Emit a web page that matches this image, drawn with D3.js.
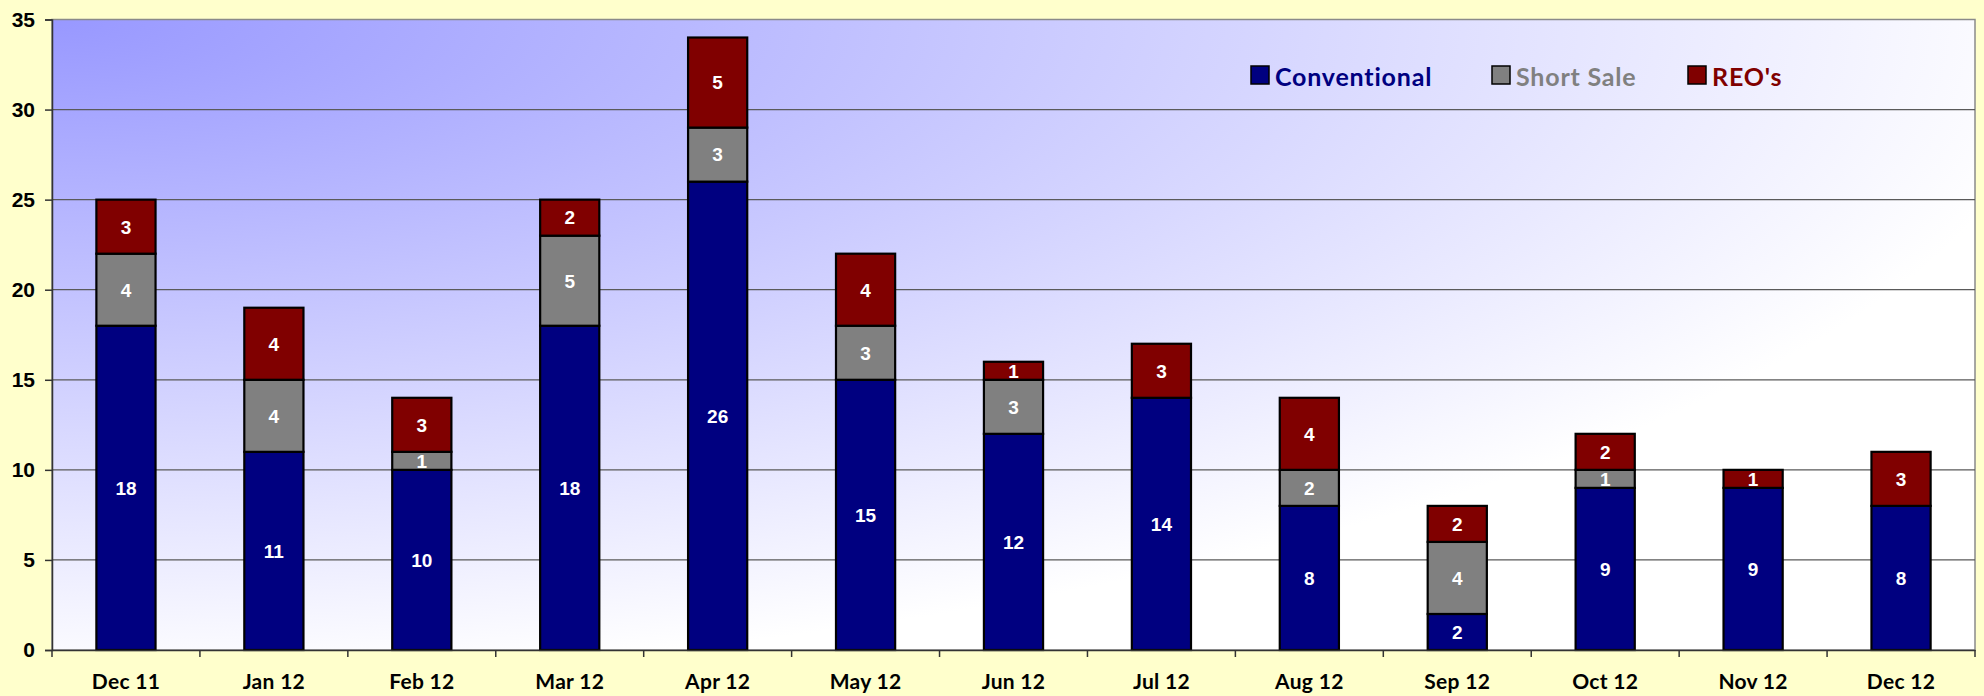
<!DOCTYPE html>
<html>
<head>
<meta charset="utf-8">
<script src="https://cdn.jsdelivr.net/npm/d3@7"></script>
<style>
  html, body { margin: 0; padding: 0; background: #FFFFCC; }
  svg { display: block; }
</style>
</head>
<body>
<svg id="chart" width="1984" height="696"></svg>
<script>
// ---- Data ----
const categories = ["Dec 11","Jan 12","Feb 12","Mar 12","Apr 12","May 12","Jun 12","Jul 12","Aug 12","Sep 12","Oct 12","Nov 12","Dec 12"];
const conventional = [18, 11, 10, 18, 26, 15, 12, 14, 8, 2, 9, 9, 8];
const shortSale    = [4, 4, 1, 5, 3, 3, 3, 0, 2, 4, 1, 0, 0];
const reos         = [3, 4, 3, 2, 5, 4, 1, 3, 4, 2, 2, 1, 3];
const seriesNames  = ["Conventional", "Short Sale", "REO's"];
const yTicks = [0, 5, 10, 15, 20, 25, 30, 35];

// ---- Layout ----
const W = 1984, H = 696;
const margin = { left: 52, right: 9, top: 19.5, bottom: 46 };
const colors = ["#000080", "#808080", "#800000"];

const svg = d3.select("#chart");
svg.append("rect").attr("width", W).attr("height", H).attr("fill", "#FFFFCC");

const x = d3.scaleBand().domain(categories)
  .range([margin.left, W - margin.right])
  .paddingInner(0.6).paddingOuter(0.3);
const y = d3.scaleLinear().domain([0, 35]).range([H - margin.bottom, margin.top]);

// gradient background of plot area
const defs = svg.append("defs");
const grad = defs.append("radialGradient").attr("id", "plotGrad")
  .attr("cx", 0).attr("cy", 0).attr("r", 1.05).attr("fx", 0).attr("fy", 0);
grad.append("stop").attr("offset", "0%").attr("stop-color", "#9898FF");
grad.append("stop").attr("offset", "100%").attr("stop-color", "#FFFFFF");

const px0 = margin.left, px1 = W - margin.right, py0 = margin.top, py1 = H - margin.bottom;
svg.append("rect")
  .attr("x", px0).attr("y", py0).attr("width", px1 - px0).attr("height", py1 - py0)
  .attr("fill", "url(#plotGrad)")
  .attr("stroke", "#8a8a8a").attr("stroke-width", 1.5);

// gridlines
svg.append("g").selectAll("line").data(yTicks.filter(d => d > 0 && d < 35)).join("line")
  .attr("x1", px0).attr("x2", px1)
  .attr("y1", d => y(d)).attr("y2", d => y(d))
  .attr("stroke", "#5a5a5a").attr("stroke-width", 1.3);

// stacked data
const rows = categories.map((c, i) => ({ cat: c, "Conventional": conventional[i], "Short Sale": shortSale[i], "REO's": reos[i] }));
const stack = d3.stack().keys(seriesNames)(rows);

const layers = svg.append("g").selectAll("g").data(stack).join("g")
  .attr("fill", (d, i) => colors[i]);

layers.selectAll("rect").data(d => d.filter(s => s[1] - s[0] > 0)).join("rect")
  .attr("x", d => x(d.data.cat))
  .attr("y", d => y(d[1]))
  .attr("width", x.bandwidth())
  .attr("height", d => y(d[0]) - y(d[1]))
  .attr("stroke", "#000").attr("stroke-width", 2.2);

// value labels
const labelG = svg.append("g")
  .attr("font-family", "'Liberation Sans', Arial, sans-serif")
  .attr("font-weight", "bold").attr("font-size", 19).attr("fill", "#fff")
  .attr("text-anchor", "middle");
stack.forEach(layer => {
  layer.forEach(s => {
    const v = s[1] - s[0];
    if (v > 0) {
      labelG.append("text")
        .attr("x", x(s.data.cat) + x.bandwidth() / 2)
        .attr("y", (y(s[0]) + y(s[1])) / 2)
        .attr("dy", "0.36em")
        .text(v);
    }
  });
});

// faint zero labels (Short Sale = 0)
const zeroShift = { "Jul 12": [65, 2.9], "Nov 12": [-76, 1.1], "Dec 12": [-70, 3.45] };
categories.forEach((c, i) => {
  if (shortSale[i] === 0 && zeroShift[c]) {
    labelG.append("text")
      .attr("x", x(c) + x.bandwidth() / 2 + zeroShift[c][0])
      .attr("y", y(zeroShift[c][1]))
      .attr("dy", "0.36em")
      .attr("fill-opacity", 0.85)
      .text(shortSale[i]);
  }
});

// Y axis
const yAxis = svg.append("g").attr("transform", `translate(${px0},0)`)
  .call(d3.axisLeft(y).tickValues(yTicks).tickSize(7).tickPadding(10));
yAxis.select(".domain").attr("stroke", "#333").attr("stroke-width", 1.5);
yAxis.selectAll(".tick line").attr("stroke", "#333").attr("stroke-width", 1.5);
yAxis.selectAll("text")
  .attr("font-family", "'Liberation Sans', Arial, sans-serif")
  .attr("font-weight", "bold").attr("font-size", 21).attr("fill", "#000");

// X axis
const xAxis = svg.append("g").attr("transform", `translate(0,${py1})`)
  .call(d3.axisBottom(x).tickSize(0).tickPadding(24));
xAxis.select(".domain").attr("stroke", "#333").attr("stroke-width", 1.5);
xAxis.selectAll("text")
  .attr("font-family", "Lato, 'Open Sans', sans-serif")
  .attr("font-weight", "bold").attr("font-size", 21).attr("letter-spacing", 0.3).attr("fill", "#000");
// boundary tick marks between categories
const bounds = d3.range(categories.length + 1).map(i => px0 + i * x.step());
svg.append("g").selectAll("line").data(bounds).join("line")
  .attr("x1", d => d).attr("x2", d => d)
  .attr("y1", py1).attr("y2", py1 + 7)
  .attr("stroke", "#333").attr("stroke-width", 1.5);

// Legend
const legendX = [1251, 1492, 1688];
const legend = svg.append("g");
seriesNames.forEach((name, i) => {
  legend.append("rect")
    .attr("x", legendX[i]).attr("y", 66).attr("width", 18).attr("height", 18)
    .attr("fill", colors[i]).attr("stroke", "#000").attr("stroke-width", 1.5);
  legend.append("text")
    .attr("x", legendX[i] + 24).attr("y", 86)
    .attr("font-family", "Lato, 'Open Sans', sans-serif")
    .attr("font-weight", "bold").attr("font-size", 25).attr("letter-spacing", 0.8)
    .attr("fill", colors[i])
    .text(name);
});
</script>
</body>
</html>
